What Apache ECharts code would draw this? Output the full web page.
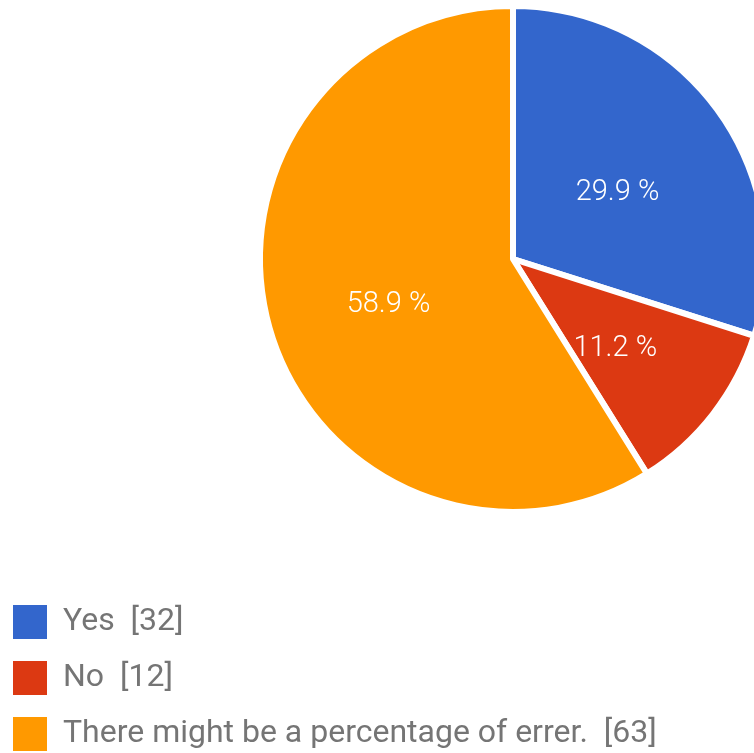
<!DOCTYPE html>
<html>
<head>
<meta charset="utf-8">
<script src="https://cdn.jsdelivr.net/npm/echarts@6/dist/echarts.min.js"></script>
<style>html,body{margin:0;padding:0;background:#fff;}#c{width:754px;height:753px;}</style>
</head>
<body>
<div id="c"></div>
<script>
const categories = ['Yes', 'No', 'There might be a percentage of errer.'];
const counts = [32, 12, 63];
const colors = ['#3366cc', '#dc3912', '#ff9900'];

const total = counts.reduce((a, b) => a + b, 0);
const chart = echarts.init(document.getElementById('c'));
chart.setOption({
  animation: false,
  color: colors,
  legend: {
    orient: 'vertical',
    left: 11,
    top: 603,
    height: 200,
    padding: 0,
    itemWidth: 36,
    itemHeight: 36,
    itemGap: 18,
    icon: 'rect',
    selectedMode: false,
    textStyle: { fontFamily: 'Roboto', fontSize: 32, lineHeight: 36, color: '#757575', padding: [0, 0, 0, 10] },
    formatter: function (name) {
      const i = categories.indexOf(name);
      return name + '  [' + counts[i] + ']';
    },
    data: categories
  },
  series: [{
    type: 'pie',
    center: [513, 259],
    radius: [0, 253],
    startAngle: 90,
    clockwise: true,
    silent: true,
    itemStyle: { borderColor: '#ffffff', borderWidth: 6 },
    label: {
      show: true,
      position: 'inside',
      color: '#ffffff',
      fontFamily: 'Roboto',
      fontSize: 29,
      fontWeight: 300,
      formatter: function (p) {
        return (p.value / total * 100).toFixed(1) + ' %';
      }
    },
    labelLayout: { dy: 10 },
    labelLine: { show: false },
    data: categories.map((n, i) => ({ name: n, value: counts[i] }))
  }]
});
</script>
</body>
</html>
